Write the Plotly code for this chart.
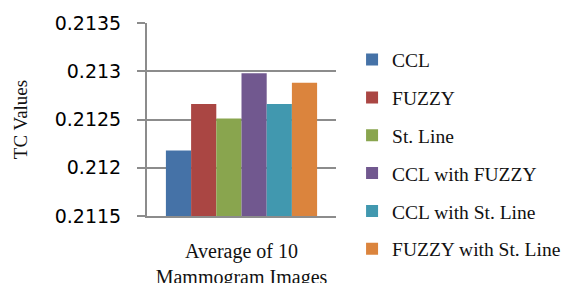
import plotly.graph_objects as go

categories = ["Average of 10<br>Mammogram Images"]
series_names = ["CCL", "FUZZY", "St. Line", "CCL with FUZZY", "CCL with St. Line", "FUZZY with St. Line"]
series_values = [0.21218, 0.21266, 0.21251, 0.21298, 0.21266, 0.21288]
colors = ["#4572A7", "#AA4643", "#89A54E", "#71588F", "#4198AF", "#DB843D"]
y_tickvals = [0.2115, 0.212, 0.2125, 0.213, 0.2135]
y_ticktext = ["0.2115", "0.212", "0.2125", "0.213", "0.2135"]

fig = go.Figure()
for i, (name, val, col) in enumerate(zip(series_names, series_values, colors)):
    fig.add_trace(go.Bar(
        x=categories, y=[val], name=name, marker_color=col,
        marker_line_width=0, legendgroup=f"g{i}",
    ))

fig.update_layout(
    width=573, height=283,
    margin=dict(l=147, r=237, t=23, b=67, autoexpand=False),
    paper_bgcolor="white", plot_bgcolor="white",
    barmode="group", bargap=0.2, bargroupgap=0,
    font=dict(family="Liberation Serif", color="black"),
    legend=dict(
        x=1.085, y=0.91, xanchor="left", yanchor="top",
        font=dict(family="Liberation Serif", size=19.5, color="#111"),
        tracegroupgap=9.5, itemwidth=30, maxheight=283,
        bgcolor="rgba(0,0,0,0)",
    ),
    xaxis=dict(
        showline=True, linecolor="#8c8c8c", linewidth=2,
        ticks="", showgrid=False,
        tickfont=dict(family="Liberation Serif", size=20, color="#111"),
        ticklabelstandoff=16,
    ),
    yaxis=dict(
        range=[0.2115, 0.2135],
        tickvals=y_tickvals, ticktext=y_ticktext,
        showline=True, linecolor="#8c8c8c", linewidth=2,
        ticks="outside", ticklen=8, tickcolor="#8c8c8c", tickwidth=2,
        showgrid=True, gridcolor="#8c8c8c", gridwidth=1.5,
        tickfont=dict(family="DejaVu Sans", size=19, color="black"),
        ticklabelstandoff=12,
        title=dict(text="TC Values", font=dict(family="Liberation Serif", size=19, color="#111"), standoff=22),
        zeroline=False,
    ),
)

fig.write_html("out.html", config={"displayModeBar": False},
               post_script="document.body.style.margin='0';")
